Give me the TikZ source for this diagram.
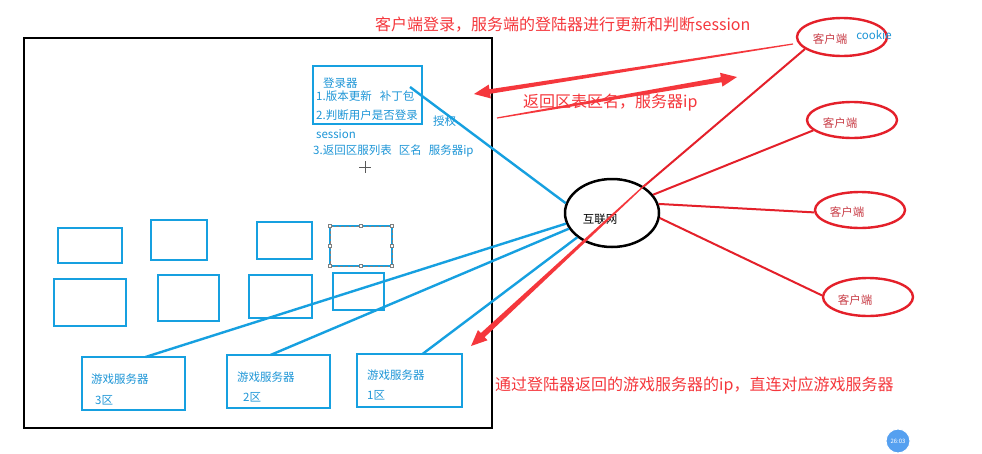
\documentclass[tikz,border=0pt]{standalone}
\usepackage{fontspec}
\setmainfont{Noto Sans CJK SC}
\usetikzlibrary{calc,shapes.geometric}
\definecolor{bl}{RGB}{22,160,224}
\definecolor{bltext}{RGB}{30,150,215}
\definecolor{rd}{RGB}{228,32,42}
\definecolor{rt}{RGB}{245,55,60}
\definecolor{ct}{RGB}{200,60,70}
\newcommand\taperarrow[4]{%
  \coordinate (#1s) at #2;
  \coordinate (#1t) at #3;
  \coordinate (#1n) at ($(#1t)!16pt!(#1s)$);
  \fill[rt] ($(#1s)!0.6pt!90:(#1t)$) -- ($(#1n)!#4!90:(#1t)$) -- ($(#1n)!7pt!90:(#1t)$)
    -- (#1t) -- ($(#1n)!7pt!-90:(#1t)$) -- ($(#1n)!#4!-90:(#1t)$) -- ($(#1s)!0.6pt!-90:(#1t)$) -- cycle;
}
\begin{document}
\begin{tikzpicture}[x=1pt,y=-1pt,
  box/.style={draw=bl,line width=2.6pt,anchor=north west,inner sep=0pt,outer sep=0pt},
  bline/.style={draw=bl,line width=2.4pt},
  rline/.style={draw=rd,line width=2pt},
  client/.style={draw=rd,line width=2.4pt,ellipse,minimum width=90pt,minimum height=38pt,inner sep=0pt},
  btxt/.style={text=bltext,font=\fontsize{11.5}{12}\selectfont,anchor=west,inner sep=0pt},
  rtxt/.style={text=rt,font=\fontsize{16}{18}\selectfont,anchor=west,inner sep=0pt},
  ctxt/.style={text=ct,font=\fontsize{11.5}{12}\selectfont,inner sep=0pt}]
\useasboundingbox (0,0) rectangle (982,453);
\fill[white] (0,0) rectangle (982,453);
% big frame
\node[draw=black,line width=2pt,anchor=north west,minimum width=468pt,minimum height=390pt,inner sep=0pt] (frame) at (23,37) {};
% login box
\node[box,minimum width=109pt,minimum height=58pt] (login) at (313,66) {};
\node[btxt] (l0) at (323,83) {登录器};
\node[btxt] (l1) at (316,96) {1.版本更新\hspace{8pt}补丁包};
\node[btxt] (l2) at (316,115) {2.判断用户是否登录};
\node[btxt] (l3) at (433,121) {授权};
\node[btxt] (l4) at (316,134) {session};
\node[btxt] (l5) at (313,151) {3.返回区服列表\hspace{7pt}区名\hspace{7pt}服务器ip};
% cursor
\draw[gray!70!black,line width=0.6pt] (359,167) -- (371,167) (365,161) -- (365,173);
% empty boxes
\node[box,minimum width=64pt,minimum height=35pt] (b1) at (58,228) {};
\node[box,minimum width=56pt,minimum height=40pt] (b2) at (151,220) {};
\node[box,minimum width=55pt,minimum height=37pt] (b3) at (257,222) {};
\node[box,minimum width=62pt,minimum height=40pt,line width=1.8pt] (b4) at (330,226) {};
\draw[gray,line width=0.5pt,densely dashed] (b4.north west) rectangle (b4.south east);
\foreach \a in {north west,north,north east,east,south east,south,south west,west}
  \filldraw[draw=gray,fill=white,line width=0.4pt] ($(b4.\a)+(-1.5,-1.5)$) rectangle ($(b4.\a)+(1.5,1.5)$);
\node[box,minimum width=72pt,minimum height=47pt] (b5) at (54,279) {};
\node[box,minimum width=61pt,minimum height=46pt] (b6) at (158,275) {};
\node[box,minimum width=63pt,minimum height=43pt] (b7) at (249,275) {};
\node[box,minimum width=51pt,minimum height=37pt] (b8) at (333,273) {};
% game servers
\node[box,minimum width=103pt,minimum height=53pt] (s3) at (82,357) {};
\node[box,minimum width=103pt,minimum height=53pt] (s2) at (227,355) {};
\node[box,minimum width=105pt,minimum height=53pt] (s1) at (357,354) {};
\node[btxt] (s3a) at (91,379) {游戏服务器};
\node[btxt] (s3b) at (95,400) {3区};
\node[btxt] (s2a) at (237,377) {游戏服务器};
\node[btxt] (s2b) at (243,397) {2区};
\node[btxt] (s1a) at (367,375) {游戏服务器};
\node[btxt] (s1b) at (367,395) {1区};
% internet
\node[draw=black,line width=2.5pt,ellipse,minimum width=94pt,minimum height=68pt,inner sep=0pt] (net) at (612,213) {};
\node[inner sep=0pt,font=\fontsize{11.5}{12}\selectfont] (nettxt) at (600,219) {互联网};
% clients
\node[client] (c1) at (842,37) {};
\node[client,minimum height=36pt] (c2) at (852,120) {};
\node[client,minimum height=36pt] (c3) at (860,210) {};
\node[client] (c4) at (868,297) {};
\node[ctxt] (c1t) at (830,39) {客户端};
\node[text=bltext,font=\fontsize{11.5}{12}\selectfont,inner sep=0pt] (ck) at (874,35) {cookie};
\node[ctxt] (c2t) at (840,123) {客户端};
\node[ctxt] (c3t) at (847,212) {客户端};
\node[ctxt] (c4t) at (855,300) {客户端};
% blue connectors
\coordinate (lstart) at (410,87);
\draw[bline] (lstart) -- (net.168);
\draw[bline] (s3.north) ++(12,0) coordinate (s3top) -- (net.193);
\draw[bline] (s2.north) ++(-8,0) coordinate (s2top) -- (net.200);
\draw[bline] (s1.north) ++(13,0) coordinate (s1top) -- (net.215);
% red connectors
\draw[rline] (net.40) -- (c1.198);
\draw[rline] (net.24) -- (c2.195);
\draw[rline] (net.11) -- (c3.183);
\draw[rline] (net.-6) -- (c4.178);
% tapered red arrows
\taperarrow{aa}{(793,44)}{(474,94)}{2.3pt}
\taperarrow{ab}{(497,118)}{(737,77)}{2.6pt}
\taperarrow{ac}{(646,184)}{(471,346)}{2.8pt}
% red texts
\node[rtxt] (t1) at (375,25) {客户端登录，服务端的登陆器进行更新和判断session};
\node[rtxt] (t2) at (523,103) {返回区表区名，服务器ip};
\node[rtxt] (t3) at (495,386) {通过登陆器返回的游戏服务器的ip，直连对应游戏服务器};
% timestamp
\node[circle,fill={rgb,255:red,85;green,160;blue,240},draw=white,line width=1pt,minimum size=24pt,inner sep=0pt,text=white,font=\fontsize{6}{6}\selectfont] (ts) at (898,441) {26:03};
\end{tikzpicture}
\end{document}
